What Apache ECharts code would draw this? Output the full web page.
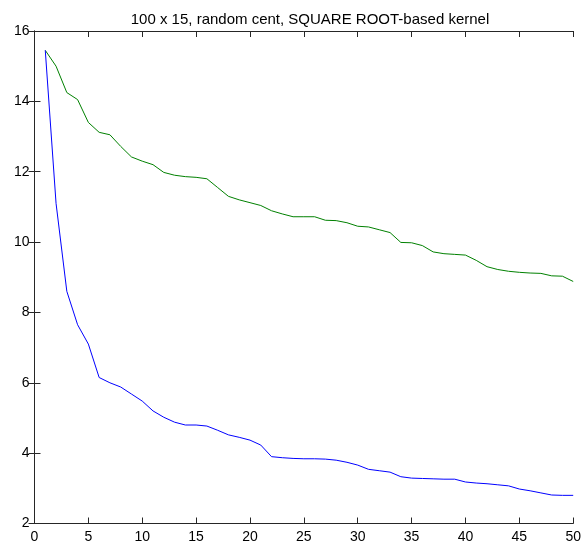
<!DOCTYPE html>
<html>
<head>
<meta charset="utf-8">
<script src="https://cdn.jsdelivr.net/npm/echarts@6/dist/echarts.min.js"></script>
<style>html,body{margin:0;padding:0;background:#fff;}#c{width:584px;height:552px;}</style>
</head>
<body>
<div id="c"></div>
<script>
const titleText = "100 x 15, random cent, SQUARE ROOT-based kernel";
const xValues = [1,2,3,4,5,6,7,8,9,10,11,12,13,14,15,16,17,18,19,20,21,22,23,24,25,26,27,28,29,30,31,32,33,34,35,36,37,38,39,40,41,42,43,44,45,46,47,48,49,50];
const greenValues = [15.45,15.0,14.25,14.05,13.4,13.12,13.05,12.72,12.42,12.3,12.2,11.98,11.9,11.86,11.84,11.8,11.55,11.3,11.2,11.12,11.04,10.89,10.8,10.72,10.72,10.72,10.62,10.61,10.55,10.45,10.43,10.35,10.27,9.99,9.98,9.9,9.72,9.67,9.65,9.63,9.48,9.3,9.22,9.17,9.14,9.12,9.11,9.04,9.03,8.88];
const blueValues = [15.45,11.1,8.6,7.65,7.1,6.15,6.0,5.88,5.68,5.48,5.2,5.02,4.88,4.8,4.8,4.77,4.65,4.52,4.45,4.37,4.23,3.9,3.87,3.85,3.84,3.84,3.83,3.8,3.74,3.66,3.54,3.5,3.46,3.33,3.29,3.28,3.27,3.26,3.26,3.18,3.15,3.13,3.1,3.07,2.98,2.93,2.87,2.81,2.8,2.8];

const FONT = "Arial, 'Liberation Sans', Helvetica, sans-serif";
const axisLine = {show:true, lineStyle:{color:'#262626', width:1}};
const axisTick = {show:true, inside:true, length:6, lineStyle:{color:'#262626', width:1}};

const chart = echarts.init(document.getElementById('c'), null, {renderer:'canvas'});
chart.setOption({
  animation:false,
  backgroundColor:'#ffffff',
  title:{text:titleText, left:305, textAlign:'center', top:7,
    textStyle:{fontFamily:FONT, fontSize:15, fontWeight:'normal', color:'#000'}},
  grid:{left:34.5, right:8, top:31, bottom:28.5, containLabel:false},
  xAxis:[
    {type:'value', min:0, max:50, interval:5, position:'bottom',
     axisLine:axisLine, axisTick:axisTick, splitLine:{show:false},
     axisLabel:{show:true, margin:7, color:'#000', fontFamily:FONT, fontSize:14}},
    {type:'value', min:0, max:50, interval:5, position:'top',
     axisLine:axisLine, axisTick:axisTick, splitLine:{show:false}, axisLabel:{show:false}}
  ],
  yAxis:[
    {type:'value', min:2, max:16, interval:2, position:'left',
     axisLine:axisLine, axisTick:axisTick, splitLine:{show:false},
     axisLabel:{show:true, margin:5, color:'#000', fontFamily:FONT, fontSize:14}},
    {type:'value', min:2, max:16, interval:2, position:'right',
     axisLine:axisLine, axisTick:axisTick, splitLine:{show:false}, axisLabel:{show:false}}
  ],
  series:[
    {type:'line', name:'green', data:xValues.map((x,i)=>[x, greenValues[i]]),
     symbol:'none', lineStyle:{color:'#008000', width:1}, itemStyle:{color:'#008000'}},
    {type:'line', name:'blue', data:xValues.map((x,i)=>[x, blueValues[i]]),
     symbol:'none', lineStyle:{color:'#0000ff', width:1}, itemStyle:{color:'#0000ff'}}
  ]
});
</script>
</body>
</html>
